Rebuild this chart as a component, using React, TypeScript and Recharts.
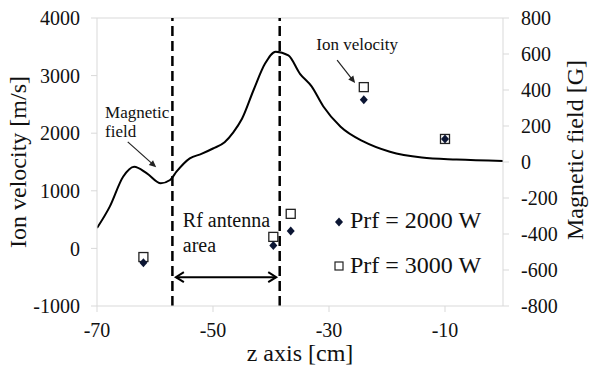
import React from "react";
import {
  ComposedChart,
  Line,
  Scatter,
  XAxis,
  YAxis,
  ReferenceLine,
  ReferenceDot,
  Legend,
} from "recharts";

const FONT = "Liberation Serif, DejaVu Serif, serif";
const AXIS_GRAY = "#d9d9d9";
const TEXT = "#111";

// Magnetic field profile (right axis)
const magZ = [-70, -67.8, -65.5, -63.6, -61.4, -59, -57.4, -56.3, -54, -52, -50, -48, -46.5, -45, -43, -41, -39.2, -37, -35, -33, -31, -28, -24, -19.5, -14, -8, 0];
const magB = [-367, -248, -82, -26, -63, -118, -100, -54, 20, 45, 75, 110, 165, 240, 400, 548, 613, 592, 490, 420, 310, 196, 113, 57, 25, 14, 6];

// Ion velocity points (left axis)
const ionZ = [-62, -39.6, -36.6, -24, -10];
const v2000 = [-250, 50, 300, 2580, 1900];
const v3000 = [-150, 200, 600, 2800, 1900];

const xTicks = [-70, -50, -30, -10];
const leftTicks = [-1000, 0, 1000, 2000, 3000, 4000];
const rightTicks = [-800, -600, -400, -200, 0, 200, 400, 600, 800];

// Antenna boundaries
const antennaStart = -57;
const antennaEnd = -38.5;

const magData = magZ.map((x, i) => ({ x, b: magB[i] }));
const d2000 = ionZ.map((x, i) => ({ x, v: v2000[i] }));
const d3000 = ionZ.map((x, i) => ({ x, v: v3000[i] }));

const DIAMOND_FILL = "#0b1533";
const tickStyle = { fontSize: 20, fill: TEXT, fontFamily: FONT, style: { fontFamily: FONT } };

const Diamond = (p: any) => {
  const { cx, cy } = p;
  if (cx == null || cy == null) return null;
  return (
    <polygon
      points={`${cx},${cy - 4.5} ${cx + 4},${cy} ${cx},${cy + 4.5} ${cx - 4},${cy}`}
      fill={DIAMOND_FILL}
    />
  );
};

const Square = (p: any) => {
  const { cx, cy } = p;
  if (cx == null || cy == null) return null;
  return <rect x={cx - 4.5} y={cy - 4.5} width={9} height={9} fill="#fff" stroke="#222" strokeWidth={1.3} />;
};

const head = (x1: number, y1: number, x2: number, y2: number, len: number, half: number, key: string) => {
  const dx = x2 - x1;
  const dy = y2 - y1;
  const L = Math.sqrt(dx * dx + dy * dy) || 1;
  const ux = dx / L;
  const uy = dy / L;
  const bx = x2 - ux * len;
  const by = y2 - uy * len;
  const px = -uy * half;
  const py = ux * half;
  return (
    <polyline
      key={key}
      points={`${bx + px},${by + py} ${x2},${y2} ${bx - px},${by - py}`}
      fill="none"
      stroke="#000"
      strokeWidth={2}
      strokeLinejoin="miter"
    />
  );
};

const SingleArrow = (p: any) => {
  const { x1, y1, x2, y2 } = p;
  if (x1 == null) return null;
  const dx = x2 - x1, dy = y2 - y1;
  const L = Math.sqrt(dx * dx + dy * dy) || 1;
  const len = 7, half = 3.2;
  const ux = dx / L, uy = dy / L;
  const bx = x2 - ux * len, by = y2 - uy * len;
  const px = -uy * half, py = ux * half;
  return (
    <g>
      <line x1={x1} y1={y1} x2={bx + ux * 2} y2={by + uy * 2} stroke="#222" strokeWidth={1.2} />
      <polygon points={`${bx + px},${by + py} ${x2},${y2} ${bx - px},${by - py}`} fill="#222" />
    </g>
  );
};

const DoubleArrow = (p: any) => {
  const { x1, y1, x2, y2 } = p;
  if (x1 == null) return null;
  return (
    <g>
      <line x1={x1} y1={y1} x2={x2} y2={y2} stroke="#000" strokeWidth={2} />
      {head(x1, y1, x2, y2, 8, 5, "a")}
      {head(x2, y2, x1, y1, 8, 5, "b")}
    </g>
  );
};

const makeText = (lines: string[], size: number, lh: number) => (p: any) => {
  const { cx, cy } = p;
  if (cx == null) return null;
  return (
    <text x={cx} y={cy} fontSize={size} fill={TEXT} style={{ fontFamily: FONT }}>
      {lines.map((l, i) => (
        <tspan key={i} x={cx} dy={i === 0 ? 0 : lh}>
          {l}
        </tspan>
      ))}
    </text>
  );
};

const LegendBox = () => (
  <svg width={180} height={90} style={{ display: "block", overflow: "visible" }}>
    <polygon points="9,21.5 13,26 9,30.5 5,26" fill={DIAMOND_FILL} />
    <text x={20} y={32} fontSize={24} fill={TEXT} style={{ fontFamily: FONT }}>
      Prf = 2000 W
    </text>
    <rect x={5} y={66} width={8} height={8} fill="#fff" stroke="#222" strokeWidth={1.2} />
    <text x={20} y={77} fontSize={24} fill={TEXT} style={{ fontFamily: FONT }}>
      Prf = 3000 W
    </text>
  </svg>
);

export default function App() {
  return (
    <div style={{ position: "absolute", left: 0, top: 0, width: 590, height: 374, background: "#fff", fontFamily: FONT }}>
      <ComposedChart width={590} height={374} margin={{ top: 18, right: 20, bottom: 20, left: 20 }} style={{ fontFamily: FONT }}>
        <XAxis
          type="number"
          dataKey="x"
          domain={[-70, 0]}
          ticks={xTicks}
          allowDataOverflow
          tick={tickStyle}
          tickLine={{ stroke: AXIS_GRAY }}
          axisLine={{ stroke: AXIS_GRAY }}
          tickSize={6}
          tickMargin={11}
          height={48}
          label={{
            content: (props: any) => {
              const vb = props.viewBox || { x: 97, y: 306, width: 406 };
              return (
                <text x={vb.x + vb.width / 2} y={vb.y + 55} textAnchor="middle" fontSize={24} fill={TEXT} style={{ fontFamily: FONT }}>
                  z axis [cm]
                </text>
              );
            },
          }}
        />
        <YAxis
          yAxisId="left"
          type="number"
          domain={[-1000, 4000]}
          ticks={leftTicks}
          allowDataOverflow
          width={77}
          tick={tickStyle}
          tickLine={{ stroke: AXIS_GRAY }}
          axisLine={{ stroke: AXIS_GRAY }}
          tickSize={6}
          tickMargin={11}
          label={{
            content: (props: any) => {
              const vb = props.viewBox || { x: 20, y: 18, width: 77, height: 288 };
              const x = vb.x + 6;
              const y = vb.y + vb.height / 2;
              return (
                <text x={x} y={y} transform={`rotate(-90, ${x}, ${y})`} textAnchor="middle" fontSize={24} fill={TEXT} style={{ fontFamily: FONT }}>
                  Ion velocity [m/s]
                </text>
              );
            },
          }}
        />
        <YAxis
          yAxisId="right"
          orientation="right"
          type="number"
          domain={[-800, 800]}
          ticks={rightTicks}
          allowDataOverflow
          width={67}
          tick={tickStyle}
          tickLine={{ stroke: AXIS_GRAY }}
          axisLine={{ stroke: AXIS_GRAY }}
          tickSize={6}
          tickMargin={12}
          label={{
            content: (props: any) => {
              const vb = props.viewBox || { x: 503, y: 18, width: 67, height: 288 };
              const x = vb.x + 80;
              const y = vb.y + vb.height / 2 - 12;
              return (
                <text x={x} y={y} transform={`rotate(-90, ${x}, ${y})`} textAnchor="middle" fontSize={24} fill={TEXT} style={{ fontFamily: FONT }}>
                  Magnetic field [G]
                </text>
              );
            },
          }}
        />
        <ReferenceLine yAxisId="left" y={4000} stroke={AXIS_GRAY} strokeWidth={1} />
        <ReferenceLine yAxisId="left" x={antennaStart} stroke="#000" strokeWidth={2.5} strokeDasharray="10 5" />
        <ReferenceLine yAxisId="left" x={antennaEnd} stroke="#000" strokeWidth={2.5} strokeDasharray="10 5" />
        <ReferenceLine
          yAxisId="left"
          segment={[
            { x: -56.4, y: -500 },
            { x: -39.1, y: -500 },
          ]}
          shape={DoubleArrow}
        />
        <ReferenceLine
          yAxisId="left"
          segment={[
            { x: -64.7, y: 1850 },
            { x: -59.8, y: 1410 },
          ]}
          shape={SingleArrow}
        />
        <ReferenceLine
          yAxisId="left"
          segment={[
            { x: -28.6, y: 3270 },
            { x: -25.5, y: 2870 },
          ]}
          shape={SingleArrow}
        />
        <ReferenceDot yAxisId="left" x={-68.6} y={2264} r={0} shape={makeText(["Magnetic", "field"], 17, 19)} />
        <ReferenceDot yAxisId="left" x={-32.2} y={3444} r={0} shape={makeText(["Ion velocity"], 17, 19)} />
        <ReferenceDot yAxisId="left" x={-55.2} y={372} r={0} shape={makeText(["Rf antenna", "area"], 20, 25)} />
        <Line
          yAxisId="right"
          data={magData}
          dataKey="b"
          type="monotone"
          stroke="#000"
          strokeWidth={2}
          dot={false}
          activeDot={false}
          isAnimationActive={false}
          legendType="none"
        />
        <Scatter yAxisId="left" data={d3000} dataKey="v" name="Prf = 3000 W" shape={Square} isAnimationActive={false} />
        <Scatter yAxisId="left" data={d2000} dataKey="v" name="Prf = 2000 W" shape={Diamond} isAnimationActive={false} />
        <Legend
          layout="vertical"
          align="center"
          verticalAlign="middle"
          content={() => <LegendBox />}
          wrapperStyle={{ position: "absolute", left: 330, top: 196, width: 180, height: 90 }}
        />
      </ComposedChart>
    </div>
  );
}
